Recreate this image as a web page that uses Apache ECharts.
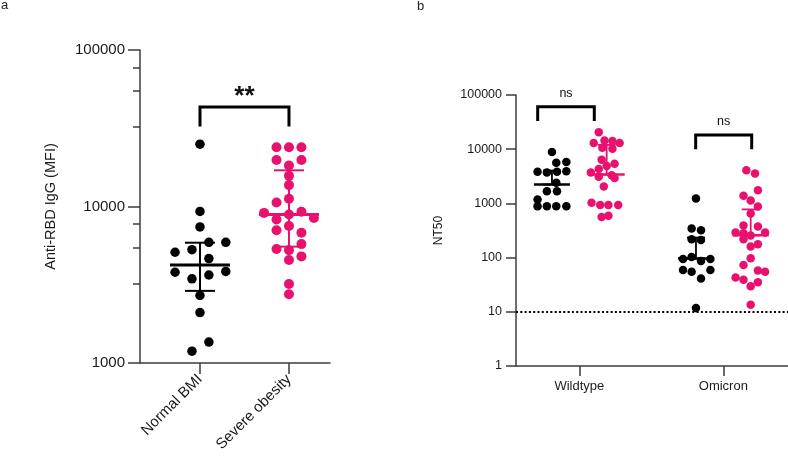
<!DOCTYPE html>
<html><head><meta charset="utf-8">
<script src="https://cdn.jsdelivr.net/npm/echarts@6/dist/echarts.min.js"></script>
<style>html,body{margin:0;padding:0;background:#fff}#c{width:788px;height:458px}</style>
</head><body><div id="c"></div>
<script>
// ---------- Panel a data ----------
const groupsA = ['Normal BMI', 'Severe obesity'];
const normalBMI = [25000, 9300, 7400, 5100, 5300, 5900, 5900, 4650, 3800, 3450, 3650, 3850, 2700, 2100, 1360, 1190];
const normalBMIJitter = [0, 0, 0, -0.28, -0.09, 0.1, 0.29, 0.1, -0.28, -0.09, 0.1, 0.29, 0, 0, 0.1, -0.09];
const severeObesity = [23900, 23900, 23900, 19800, 19800, 18300, 15700, 13700, 11200, 10600, 9100, 8900, 9250, 8450, 8250, 7500, 7050, 6800, 5750, 5350, 5250, 4800, 4550, 3200, 2750];
const severeObesityJitter = [-0.14, 0, 0.14, -0.14, 0.14, 0, 0, 0, 0, -0.14, -0.28, 0, 0.14, 0.28, -0.14, 0, -0.14, 0.14, 0.14, -0.14, 0, 0.14, 0, 0, 0];
// median, lower, upper
const statsNormalBMI = [4230, 2890, 5870];
const statsSevereObesity = [8890, 5540, 17030];
const yTicksA = [1000, 10000, 100000];
const yMinorTicksA = [3230, 5460, 7710, 32300, 54600, 77100];
const sigA = '**';

// ---------- Panel b data ----------
const groupsB = ['Wildtype', 'Omicron'];
const wtNormal = [8900, 5650, 5800, 3850, 3700, 3850, 3930, 2400, 1680, 1680, 1180, 890, 890, 890, 890];
const wtNormalJitter = [0, 0.03, 0.1, -0.1, -0.035, 0.035, 0.1, 0.03, -0.035, 0.035, -0.1, -0.1, -0.035, 0.03, 0.1];
const wtObese = [20500, 14500, 14200, 13000, 13000, 10600, 10200, 6400, 5400, 4900, 4300, 3700, 3300, 3100, 2950, 2050, 1030, 930, 930, 930, 590, 560];
const wtObeseJitter = [-0.055, -0.015, 0.04, -0.09, 0.09, -0.03, 0.04, -0.035, 0.055, 0, -0.055, -0.11, 0.035, -0.055, 0.055, -0.02, -0.105, -0.045, 0.012, 0.08, 0.012, -0.035];
const omiNormal = [1230, 343, 319, 218, 211, 94, 103, 87, 94, 59, 55, 59, 41, 11.7];
const omiNormalJitter = [0, -0.03, 0.035, -0.03, 0.035, -0.09, -0.03, 0.035, 0.1, -0.09, -0.03, 0.1, 0.035, 0];
const omiObese = [4100, 3550, 1750, 1380, 1130, 880, 650, 390, 375, 290, 281, 289, 255, 218, 176, 160, 97, 73, 58, 55, 43, 39, 35, 29.5, 13.5];
const omiObeseJitter = [-0.03, 0.03, 0.05, -0.05, 0, 0.05, 0, -0.05, 0.05, -0.105, -0.05, 0.1, 0, -0.05, 0.05, 0, 0, -0.05, 0.05, 0.1, -0.105, -0.05, 0.05, 0, 0];
// median, lower, upper
const statsWtNormal = [2230, 2230, 4040];
const statsWtObese = [3410, 3410, 12000];
const statsOmiNormal = [96, 96, 234];
const statsOmiObese = [258, 258, 776];
const yTicksB = [1, 10, 100, 1000, 10000, 100000];
const detectionLimit = 10;
const sigB = ['ns', 'ns'];

// ---------- helpers ----------
const BLACK = '#000000';
const PINK = '#E8126E';
const AXIS = '#3c3c3c';
const FONT = 'Liberation Sans, Arial, sans-serif';
const groupOffsetB = 0.19;

function pts(vals, jit, center) { return vals.map((v, i) => [center + jit[i], v]); }

function statsRender(hw, cw, mw, bw, color) {
  return function (params, api) {
    const x = api.value(0);
    const pm = api.coord([x, api.value(1)]);
    const pl = api.coord([x, api.value(2)]);
    const pu = api.coord([x, api.value(3)]);
    const st = { stroke: color, lineWidth: bw, fill: null };
    return { type: 'group', children: [
      { type: 'line', shape: { x1: pm[0], y1: pl[1], x2: pm[0], y2: pu[1] }, style: st },
      { type: 'line', shape: { x1: pm[0] - cw, y1: pu[1], x2: pm[0] + cw, y2: pu[1] }, style: st },
      { type: 'line', shape: { x1: pm[0] - cw, y1: pl[1], x2: pm[0] + cw, y2: pl[1] }, style: st },
      { type: 'line', shape: { x1: pm[0] - hw, y1: pm[1], x2: pm[0] + hw, y2: pm[1] }, style: { stroke: color, lineWidth: mw } }
    ] };
  };
}

function bracketRender(texts, fontSize, fontWeight) {
  return function (params, api) {
    const x1 = api.value(0), x2 = api.value(1);
    const top = api.value(2), leg = api.value(3), ty = api.value(4);
    const a = api.coord([x1, leg]), b = api.coord([x1, top]);
    const c = api.coord([x2, top]), d = api.coord([x2, leg]);
    const t = api.coord([(x1 + x2) / 2, ty]);
    return { type: 'group', children: [
      { type: 'polyline', shape: { points: [a, b, c, d] }, style: { stroke: '#000', lineWidth: 3, fill: null, lineJoin: 'miter' } },
      { type: 'text', x: t[0], y: t[1], style: { text: texts[params.dataIndex], fill: '#111', font: fontWeight + ' ' + fontSize + 'px ' + FONT, align: 'center', verticalAlign: 'middle' } }
    ] };
  };
}

const chart = echarts.init(document.getElementById('c'), null, { renderer: 'canvas' });

const option = {
  animation: false,
  backgroundColor: '#fff',
  graphic: [
    { type: 'text', left: 1, top: -1, style: { text: 'a', font: '13px ' + FONT, fill: '#222' } },
    { type: 'text', left: 417, top: 0, style: { text: 'b', font: '13px ' + FONT, fill: '#222' } }
  ],
  grid: [
    { left: 140, top: 50, width: 190, height: 313 },
    { left: 516, top: 95, width: 272, height: 271 }
  ],
  xAxis: [
    {
      gridIndex: 0, type: 'value', min: 0.326, max: 2.461,
      splitLine: { show: false },
      axisLine: { lineStyle: { color: AXIS, width: 1.5 } },
      axisTick: { customValues: [1, 2], length: 11, lineStyle: { color: AXIS, width: 1.5 } },
      axisLabel: { customValues: [1, 2], formatter: v => groupsA[Math.round(v) - 1], rotate: 45, margin: 14, fontSize: 15, color: '#1a1a1a', fontFamily: FONT }
    },
    {
      gridIndex: 1, type: 'value', min: 0.5604, max: 2.449,
      splitLine: { show: false },
      axisLine: { lineStyle: { color: AXIS, width: 1.5 } },
      axisTick: { customValues: [1, 2], length: 10, lineStyle: { color: AXIS, width: 1.5 } },
      axisLabel: { customValues: [1, 2], formatter: v => groupsB[Math.round(v) - 1], margin: 14, fontSize: 13, color: '#1a1a1a', fontFamily: FONT }
    }
  ],
  yAxis: [
    {
      gridIndex: 0, type: 'log', logBase: 10, min: 1000, max: 100000, position: 'left',
      name: 'Anti-RBD IgG (MFI)', nameLocation: 'middle', nameGap: 82,
      nameTextStyle: { fontSize: 14.5, color: '#1a1a1a', fontFamily: FONT },
      splitLine: { show: false },
      axisLine: { show: true, lineStyle: { color: AXIS, width: 1.5 } },
      axisTick: { show: true, customValues: yTicksA, length: 12, lineStyle: { color: AXIS, width: 1.5 } },
      axisLabel: { customValues: yTicksA, formatter: v => String(Math.round(v)), margin: 15, fontSize: 15, color: '#1a1a1a', fontFamily: FONT }
    },
    {
      gridIndex: 0, type: 'log', logBase: 10, min: 1000, max: 100000, position: 'left', offset: 0,
      splitLine: { show: false },
      axisLine: { show: false },
      axisTick: { show: true, customValues: yMinorTicksA, length: 7, lineStyle: { color: AXIS, width: 1.5 } },
      axisLabel: { show: false }
    },
    {
      gridIndex: 1, type: 'log', logBase: 10, min: 1, max: 100000, position: 'left',
      name: 'NT50', nameLocation: 'middle', nameGap: 71,
      nameTextStyle: { fontSize: 12, color: '#1a1a1a', fontFamily: FONT },
      splitLine: { show: false },
      axisLine: { show: true, lineStyle: { color: AXIS, width: 1.5 } },
      axisTick: { show: true, customValues: yTicksB, length: 10, lineStyle: { color: AXIS, width: 1.5 } },
      axisLabel: { customValues: yTicksB, formatter: v => String(Math.round(v)), margin: 14, fontSize: 12.5, color: '#1a1a1a', fontFamily: FONT }
    }
  ],
  series: [
    // Panel a dots
    { type: 'scatter', xAxisIndex: 0, yAxisIndex: 0, symbolSize: 9.5, itemStyle: { color: BLACK, opacity: 1 }, data: pts(normalBMI, normalBMIJitter, 1), z: 2 },
    { type: 'scatter', xAxisIndex: 0, yAxisIndex: 0, symbolSize: 10, itemStyle: { color: PINK, opacity: 1 }, data: pts(severeObesity, severeObesityJitter, 2), z: 2 },
    // Panel a stats
    { type: 'custom', xAxisIndex: 0, yAxisIndex: 0, z: 5, clip: false, encode: { x: 0, y: [1, 2, 3] },
      renderItem: statsRender(30, 15, 3, 2, BLACK), data: [[1].concat(statsNormalBMI)] },
    { type: 'custom', xAxisIndex: 0, yAxisIndex: 0, z: 5, clip: false, encode: { x: 0, y: [1, 2, 3] },
      renderItem: statsRender(30, 15, 3, 2, PINK), data: [[2].concat(statsSevereObesity)] },
    // Panel a bracket
    { type: 'custom', xAxisIndex: 0, yAxisIndex: 0, z: 5, clip: false, encode: { x: [0, 1], y: [2, 3, 4] },
      renderItem: bracketRender([sigA], 26, 'bold'), data: [[1, 2, 43200, 32400, 50500]] },

    // Panel b dots
    { type: 'scatter', xAxisIndex: 1, yAxisIndex: 2, symbolSize: 8.5, itemStyle: { color: BLACK, opacity: 1 }, z: 2,
      data: pts(wtNormal, wtNormalJitter, 1 - groupOffsetB).concat(pts(omiNormal, omiNormalJitter, 2 - groupOffsetB)),
      markLine: { silent: true, symbol: 'none', label: { show: false }, lineStyle: { type: [2, 2.3], color: '#000', width: 2.2, opacity: 1 }, data: [{ yAxis: detectionLimit }] } },
    { type: 'scatter', xAxisIndex: 1, yAxisIndex: 2, symbolSize: 8.5, itemStyle: { color: PINK, opacity: 1 }, z: 2,
      data: pts(wtObese, wtObeseJitter, 1 + groupOffsetB).concat(pts(omiObese, omiObeseJitter, 2 + groupOffsetB)) },
    // Panel b stats
    { type: 'custom', xAxisIndex: 1, yAxisIndex: 2, z: 5, clip: false, encode: { x: 0, y: [1, 2, 3] },
      renderItem: statsRender(18, 9, 2.5, 1.8, BLACK),
      data: [[1 - groupOffsetB].concat(statsWtNormal), [2 - groupOffsetB].concat(statsOmiNormal)] },
    { type: 'custom', xAxisIndex: 1, yAxisIndex: 2, z: 5, clip: false, encode: { x: 0, y: [1, 2, 3] },
      renderItem: statsRender(18, 9, 2.5, 1.8, PINK),
      data: [[1 + groupOffsetB].concat(statsWtObese), [2 + groupOffsetB].concat(statsOmiObese)] },
    // Panel b brackets
    { type: 'custom', xAxisIndex: 1, yAxisIndex: 2, z: 5, clip: false, encode: { x: [0, 1], y: [2, 3, 4] },
      renderItem: bracketRender(sigB, 12.5, 'normal'),
      data: [[0.711, 1.104, 60800, 33100, 107000], [1.808, 2.197, 18300, 10000, 32100]] }
  ]
};
chart.setOption(option);
</script>
</body></html>
